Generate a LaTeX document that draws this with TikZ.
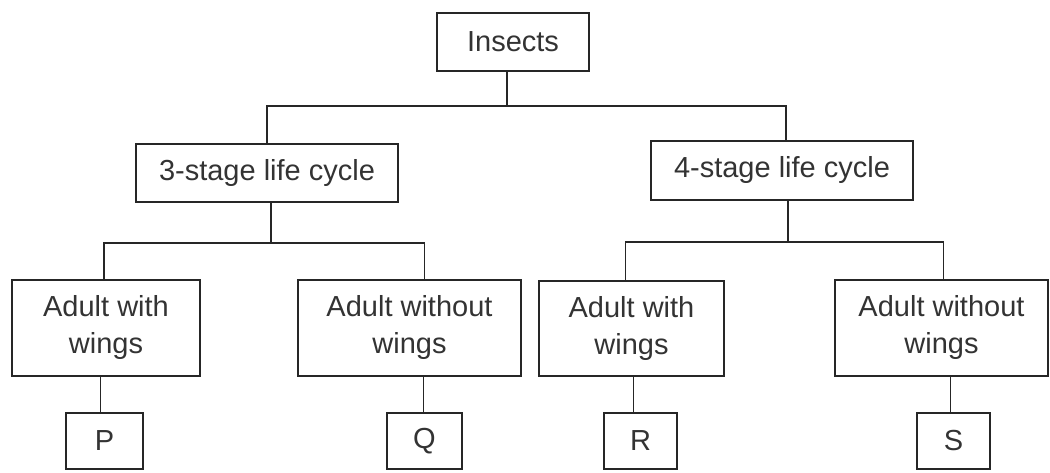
\documentclass[tikz,border=0pt]{standalone}
\usepackage{fontspec}
\setmainfont{Liberation Sans}
\begin{document}
\begin{tikzpicture}[x=1pt,y=-1pt,
  box/.style={draw=black!85,line width=1.7pt,minimum width=#1,inner sep=0pt,align=center,
    text=black!80,font=\fontsize{29}{37}\selectfont},
  box/.default=100pt,
  conn/.style={draw=black!85,line width=1.7pt}]
\useasboundingbox (0,0) rectangle (1050,473);
\node[box=152pt,minimum height=58pt] (insects) at (513,42) {Insects};
\node[box=262pt,minimum height=58pt] (s3) at (267,173) {3-stage life cycle};
\node[box=262pt,minimum height=59pt] (s4) at (782,170.5) {4-stage life cycle};
\node[box=188pt,minimum height=96pt] (aw1) at (106,328) {Adult with\\wings};
\node[box=223pt,minimum height=96pt] (awo1) at (409.5,328) {Adult without\\wings};
\node[box=185pt,minimum height=95pt] (aw2) at (631.5,328.5) {Adult with\\wings};
\node[box=213pt,minimum height=96pt] (awo2) at (941.5,328) {Adult without\\wings};
\node[box=77pt,minimum height=56pt] (P) at (104.5,441) {P};
\node[box=75pt,minimum height=56pt] (Q) at (424.5,441) {Q};
\node[box=73pt,minimum height=56pt] (R) at (640.5,441) {R};
\node[box=73pt,minimum height=56pt] (S) at (953.5,441) {S};
\coordinate (t) at (0,106);
\coordinate (l) at (0,243);
\coordinate (r) at (0,242);
% top level
\draw[conn] ([xshift=-6pt]insects.south) -- ([xshift=-6pt]insects.south |- t);
\draw[conn] (s3.north) -- (s3.north |- t) -- ([xshift=4pt]s4.north |- t) -- ([xshift=4pt]s4.north);
% left branch
\draw[conn] ([xshift=4pt]s3.south) -- ([xshift=4pt]s3.south |- l);
\draw[conn] ([xshift=-2pt]aw1.north) -- ([xshift=-2pt]aw1.north |- l) -- (Q.north |- l) -- (Q.north |- awo1.north);
\draw[conn] ([xshift=-4pt]P.north) -- ([xshift=-4pt]P.north |- aw1.south);
\draw[conn] ([xshift=-1pt]Q.north) -- ([xshift=-1pt]Q.north |- awo1.south);
% right branch
\draw[conn] ([xshift=6pt]s4.south) -- ([xshift=6pt]s4.south |- r);
\draw[conn] ([xshift=-6pt]aw2.north) -- ([xshift=-6pt]aw2.north |- r) -- ([xshift=2pt]awo2.north |- r) -- ([xshift=2pt]awo2.north);
\draw[conn] ([xshift=-7pt]R.north) -- ([xshift=-7pt]R.north |- aw2.south);
\draw[conn] ([xshift=-3pt]S.north) -- ([xshift=-3pt]S.north |- awo2.south);
\end{tikzpicture}
\end{document}
